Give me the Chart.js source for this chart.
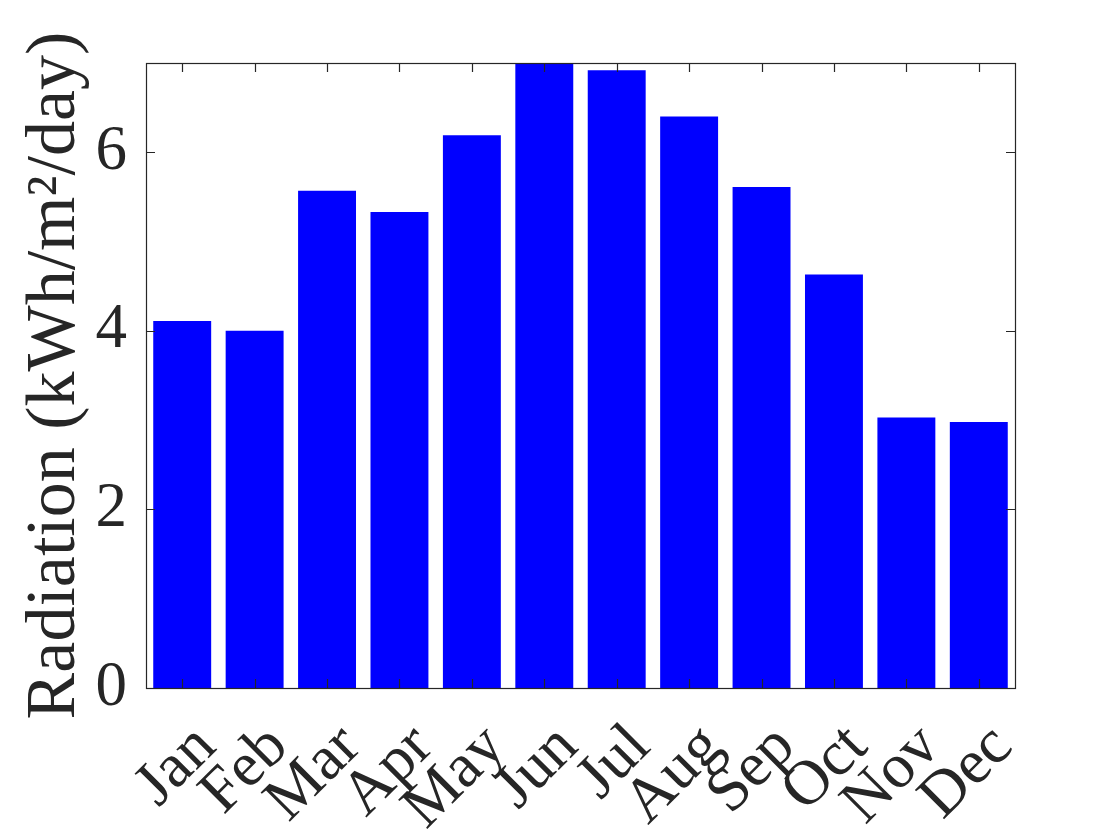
<!DOCTYPE html>
<html>
<head>
<meta charset="utf-8">
<script src="https://cdn.jsdelivr.net/npm/chart.js@4"></script>
<style>
  html, body { margin: 0; padding: 0; background: #ffffff; }
  #wrap { width: 1120px; height: 840px; position: relative; }
</style>
</head>
<body>
<div id="wrap"><canvas id="c" width="1120" height="840"></canvas></div>
<script>
const months = ['Jan','Feb','Mar','Apr','May','Jun','Jul','Aug','Sep','Oct','Nov','Dec'];
const radiation = [4.11, 4.00, 5.57, 5.33, 6.19, 7.00, 6.92, 6.40, 5.61, 4.63, 3.03, 2.98];
const yLabel = 'Radiation (kWh/m\u00B2/day)';
const yMin = 0, yMax = 7, yStep = 2;

const INK = '#262626';
const FONT = "'Liberation Serif', 'Times New Roman', Times, serif";
const TICK_SIZE = 63;
const LABEL_SIZE = 70;

// inward tick marks, full box frame and 45° month labels (right-aligned)
const frameTicks = {
  id: 'frameTicks',
  afterDatasetsDraw(chart) {
    const {ctx, chartArea: a, scales} = chart;
    const x = scales.x, y = scales.y;
    const L = 9;
    ctx.save();
    ctx.strokeStyle = INK;
    ctx.lineWidth = 1.2;
    ctx.beginPath();
    y.ticks.forEach(t => {
      const py = Math.round(y.getPixelForValue(t.value)) + 0.5;
      ctx.moveTo(a.left, py); ctx.lineTo(a.left + L, py);
      ctx.moveTo(a.right, py); ctx.lineTo(a.right - L, py);
    });
    x.ticks.forEach((t, i) => {
      const px = Math.round(x.getPixelForTick(i)) + 0.5;
      ctx.moveTo(px, a.top); ctx.lineTo(px, a.top + L);
      ctx.moveTo(px, a.bottom); ctx.lineTo(px, a.bottom - L);
    });
    ctx.stroke();
    ctx.strokeRect(Math.round(a.left) + 0.5, Math.round(a.top) + 0.5,
                   Math.round(a.right - a.left), Math.round(a.bottom - a.top));

    ctx.fillStyle = INK;
    ctx.font = TICK_SIZE + 'px ' + FONT;
    ctx.textAlign = 'right';
    ctx.textBaseline = 'middle';
    x.ticks.forEach((t, i) => {
      const px = x.getPixelForTick(i);
      ctx.save();
      ctx.translate(px + 24, a.bottom + 49);
      ctx.rotate(-Math.PI / 4);
      ctx.fillText(x.getLabelForValue(t.value), 0, 0);
      ctx.restore();
    });
    ctx.restore();
  }
};

new Chart(document.getElementById('c'), {
  type: 'bar',
  data: {
    labels: months,
    datasets: [{
      data: radiation,
      backgroundColor: '#0000ff',
      borderWidth: 0,
      barPercentage: 0.8,
      categoryPercentage: 1.0
    }]
  },
  options: {
    responsive: false,
    animation: false,
    devicePixelRatio: 1,
    layout: { padding: { left: 0, right: 105, top: 63, bottom: 0 } },
    plugins: { legend: { display: false }, tooltip: { enabled: false } },
    scales: {
      x: {
        offset: true,
        grid: { display: false, drawTicks: false },
        border: { display: false },
        ticks: { display: false, autoSkip: false },
        afterFit(s) { s.height = 152; }
      },
      y: {
        min: yMin, max: yMax,
        grid: { display: false, drawTicks: false },
        border: { display: false },
        ticks: {
          stepSize: yStep,
          includeBounds: false,
          color: INK,
          font: { family: FONT, size: TICK_SIZE },
          padding: 19
        },
        title: {
          display: true,
          text: yLabel,
          color: INK,
          font: { family: FONT, size: LABEL_SIZE },
          padding: { top: 14, bottom: 0 }
        },
        afterFit(s) { s.width = 146; }
      }
    }
  },
  plugins: [frameTicks]
});
</script>
</body>
</html>
